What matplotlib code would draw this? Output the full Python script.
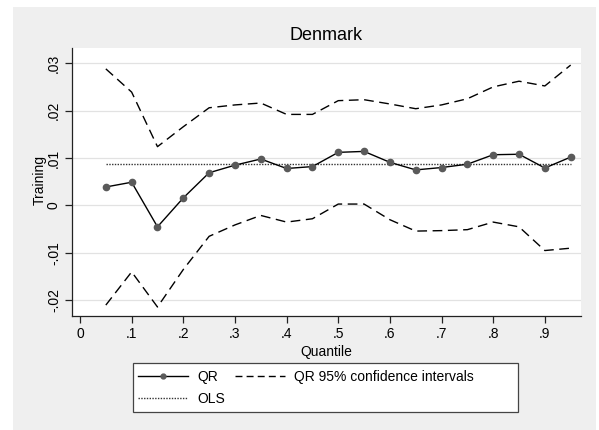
import matplotlib
matplotlib.use("Agg")
import matplotlib.pyplot as plt
from matplotlib.patches import Rectangle
from matplotlib.lines import Line2D

plt.rcParams['font.family'] = ['Liberation Sans', 'DejaVu Sans']

quantiles = [0.05, 0.10, 0.15, 0.20, 0.25, 0.30, 0.35, 0.40, 0.45, 0.50,
             0.55, 0.60, 0.65, 0.70, 0.75, 0.80, 0.85, 0.90, 0.95]
qr_coef = [0.0039, 0.0049, -0.0045, 0.0016, 0.0069, 0.0085, 0.0098, 0.0078, 0.0082, 0.0112,
           0.0114, 0.0091, 0.0075, 0.0080, 0.0087, 0.0107, 0.0108, 0.0079, 0.0102]
ci_upper = [0.0288, 0.0239, 0.0124, 0.0166, 0.0206, 0.0212, 0.0216, 0.0192, 0.0192, 0.0221,
            0.0223, 0.0214, 0.0204, 0.0212, 0.0225, 0.0250, 0.0262, 0.0252, 0.0296]
ci_lower = [-0.0210, -0.0140, -0.0214, -0.0135, -0.0065, -0.0041, -0.0021, -0.0035, -0.0028, 0.0003,
            0.0003, -0.0030, -0.0054, -0.0053, -0.0051, -0.0035, -0.0045, -0.0095, -0.0090]
ols_coef = 0.00866

x_ticks = [0, 0.1, 0.2, 0.3, 0.4, 0.5, 0.6, 0.7, 0.8, 0.9]
x_tick_labels = ["0", ".1", ".2", ".3", ".4", ".5", ".6", ".7", ".8", ".9"]
y_ticks = [-0.02, -0.01, 0, 0.01, 0.02, 0.03]
y_tick_labels = ["-.02", "-.01", "0", ".01", ".02", ".03"]

W, H = 599, 430
fig = plt.figure(figsize=(W / 100, H / 100), dpi=100)
fig.patch.set_facecolor("white")

# gray graph region
fig.patches.append(Rectangle((13 / W, 0), 583 / W, (H - 7) / H,
                             transform=fig.transFigure, facecolor="#efefef",
                             edgecolor="none", zorder=0))

ax = fig.add_axes([72 / W, 1 - 316 / H, (581 - 72) / W, (316 - 48) / H])
ax.set_facecolor("white")
ax.set_zorder(1)

ax.set_xlim(-0.0155, 0.97)
ax.set_ylim(-0.0233, 0.0332)

for s in ("top", "right"):
    ax.spines[s].set_visible(False)
for s in ("left", "bottom"):
    ax.spines[s].set_color("#222222")
    ax.spines[s].set_linewidth(0.9)

ax.set_yticks(y_ticks)
ax.set_yticklabels(y_tick_labels, rotation=90, va="center")
ax.set_xticks(x_ticks)
ax.set_xticklabels(x_tick_labels)
ax.tick_params(axis="both", direction="out", length=5, width=0.9, color="#222222",
               labelsize=10, pad=3)
ax.grid(axis="y", color="#e2e2e2", linewidth=0.9)
ax.set_axisbelow(True)

dash = (0, (7, 4))
ax.plot(quantiles, ci_upper, color="black", linewidth=1.0, linestyle=dash)
ax.plot(quantiles, ci_lower, color="black", linewidth=1.0, linestyle=dash)
ax.plot([quantiles[0], quantiles[-1]], [ols_coef, ols_coef], color="#333333",
        linewidth=1.0, linestyle=(0, (1, 1)))
ax.plot(quantiles, qr_coef, color="black", linewidth=1.0, marker="o",
        markersize=4.5, markerfacecolor="#5a5a5a", markeredgecolor="#5a5a5a")

fig.text(326.5 / W, 1 - 35 / H, "Denmark", ha="center", va="center", fontsize=13)
fig.text(326.5 / W, 1 - 352 / H, "Quantile", ha="center", va="center", fontsize=10)
fig.text(40 / W, 1 - 180 / H, "Training", ha="center", va="center", rotation=90, fontsize=10)

# legend box
fig.patches.append(Rectangle((133 / W, 1 - 412 / H), 385 / W, 49 / H,
                             transform=fig.transFigure, facecolor="white",
                             edgecolor="#444444", linewidth=0.9, zorder=2))

h_qr = Line2D([], [], color="black", linewidth=1.0, marker="o", markersize=3.5,
              markerfacecolor="#5a5a5a", markeredgecolor="#5a5a5a")
h_ols = Line2D([], [], color="#333333", linewidth=1.0, linestyle=(0, (1, 1)))
h_ci = Line2D([], [], color="black", linewidth=1.0, linestyle=(0, (5, 3)))

leg = fig.legend([h_qr, h_ols, h_ci], ["QR", "OLS", "QR 95% confidence intervals"],
                 ncol=2, loc="upper left",
                 bbox_to_anchor=(138 / W, 1 - 370 / H),
                 fontsize=10, handlelength=3.6, handletextpad=0.65,
                 columnspacing=0.7, labelspacing=0.6, borderaxespad=0,
                 borderpad=0, frameon=False)
leg.set_zorder(3)

fig.savefig("out.png", dpi=100)
